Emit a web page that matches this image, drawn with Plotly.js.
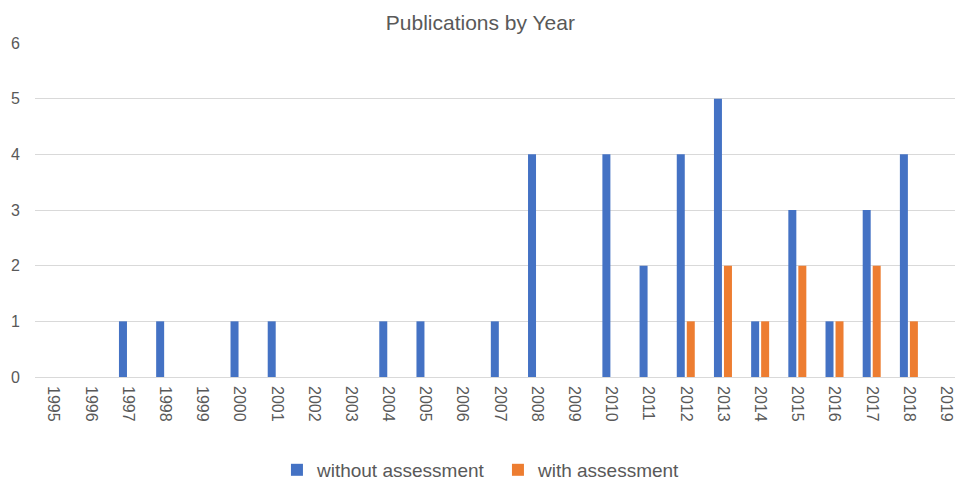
<!DOCTYPE html>
<html>
<head>
<meta charset="utf-8">
<script src="https://cdn.plot.ly/plotly-3.0.1.min.js"></script>
<style>
  html, body { margin: 0; padding: 0; background: #fff; overflow: hidden; }
  #chart { width: 955px; height: 482px; }
</style>
</head>
<body>
<div id="chart"></div>
<script>
// Publication counts per year, split by whether an assessment was included
const years = ["1995","1996","1997","1998","1999","2000","2001","2002","2003","2004","2005","2006",
               "2007","2008","2009","2010","2011","2012","2013","2014","2015","2016","2017","2018","2019"];
const withoutAssessment = [0,0,1,1,0,1,1,0,0,1,1,0,1,4,0,4,2,4,5,1,3,1,3,4,0];
const withAssessment    = [0,0,0,0,0,0,0,0,0,0,0,0,0,0,0,0,0,1,2,1,2,1,2,1,0];
const seriesNames = ["without assessment", "with assessment"];

const FONT = "Liberation Sans, Arial, sans-serif";
const GREY = "#595959";

const traces = [
  { type: "bar", name: seriesNames[0], x: years, y: withoutAssessment,
    marker: { color: "#4472C4" }, hoverinfo: "x+y" },
  { type: "bar", name: seriesNames[1], x: years, y: withAssessment,
    marker: { color: "#ED7D31" }, hoverinfo: "x+y" }
];

const layout = {
  width: 955, height: 482,
  margin: { l: 35, r: 0, t: 43, b: 105 },
  paper_bgcolor: "#fff", plot_bgcolor: "#fff",
  font: { family: FONT, color: GREY, size: 15 },
  title: { text: "Publications by Year", font: { family: FONT, size: 21, color: GREY },
           x: 0.503, xref: "container", y: 0.953, yref: "container", yanchor: "middle" },
  barmode: "group",
  bargap: 0.462,
  bargroupgap: 0.2,
  showlegend: true,
  legend: { orientation: "h", xref: "container", yref: "container",
            x: 0.29, xanchor: "left", y: 0.025, yanchor: "middle",
            entrywidth: 176, entrywidthmode: "pixels",
            font: { family: FONT, size: 19, color: GREY }, itemwidth: 30, traceorder: "normal" },
  xaxis: {
    type: "category", range: [-0.5, 24.24], tickangle: 90,
    showgrid: false, showline: false, zeroline: false, ticks: "",
    tickfont: { family: FONT, size: 16, color: GREY }, ticklabelstandoff: 8
  },
  yaxis: {
    range: [0, 6], dtick: 1, showgrid: true, gridcolor: "#D9D9D9", gridwidth: 1,
    zeroline: true, zerolinecolor: "#D9D9D9", zerolinewidth: 1,
    showline: false, ticks: "",
    tickfont: { family: FONT, size: 16, color: GREY }, ticklabelstandoff: 14
  }
};

Plotly.newPlot("chart", traces, layout, { displayModeBar: false, staticPlot: true });
</script>
</body>
</html>
